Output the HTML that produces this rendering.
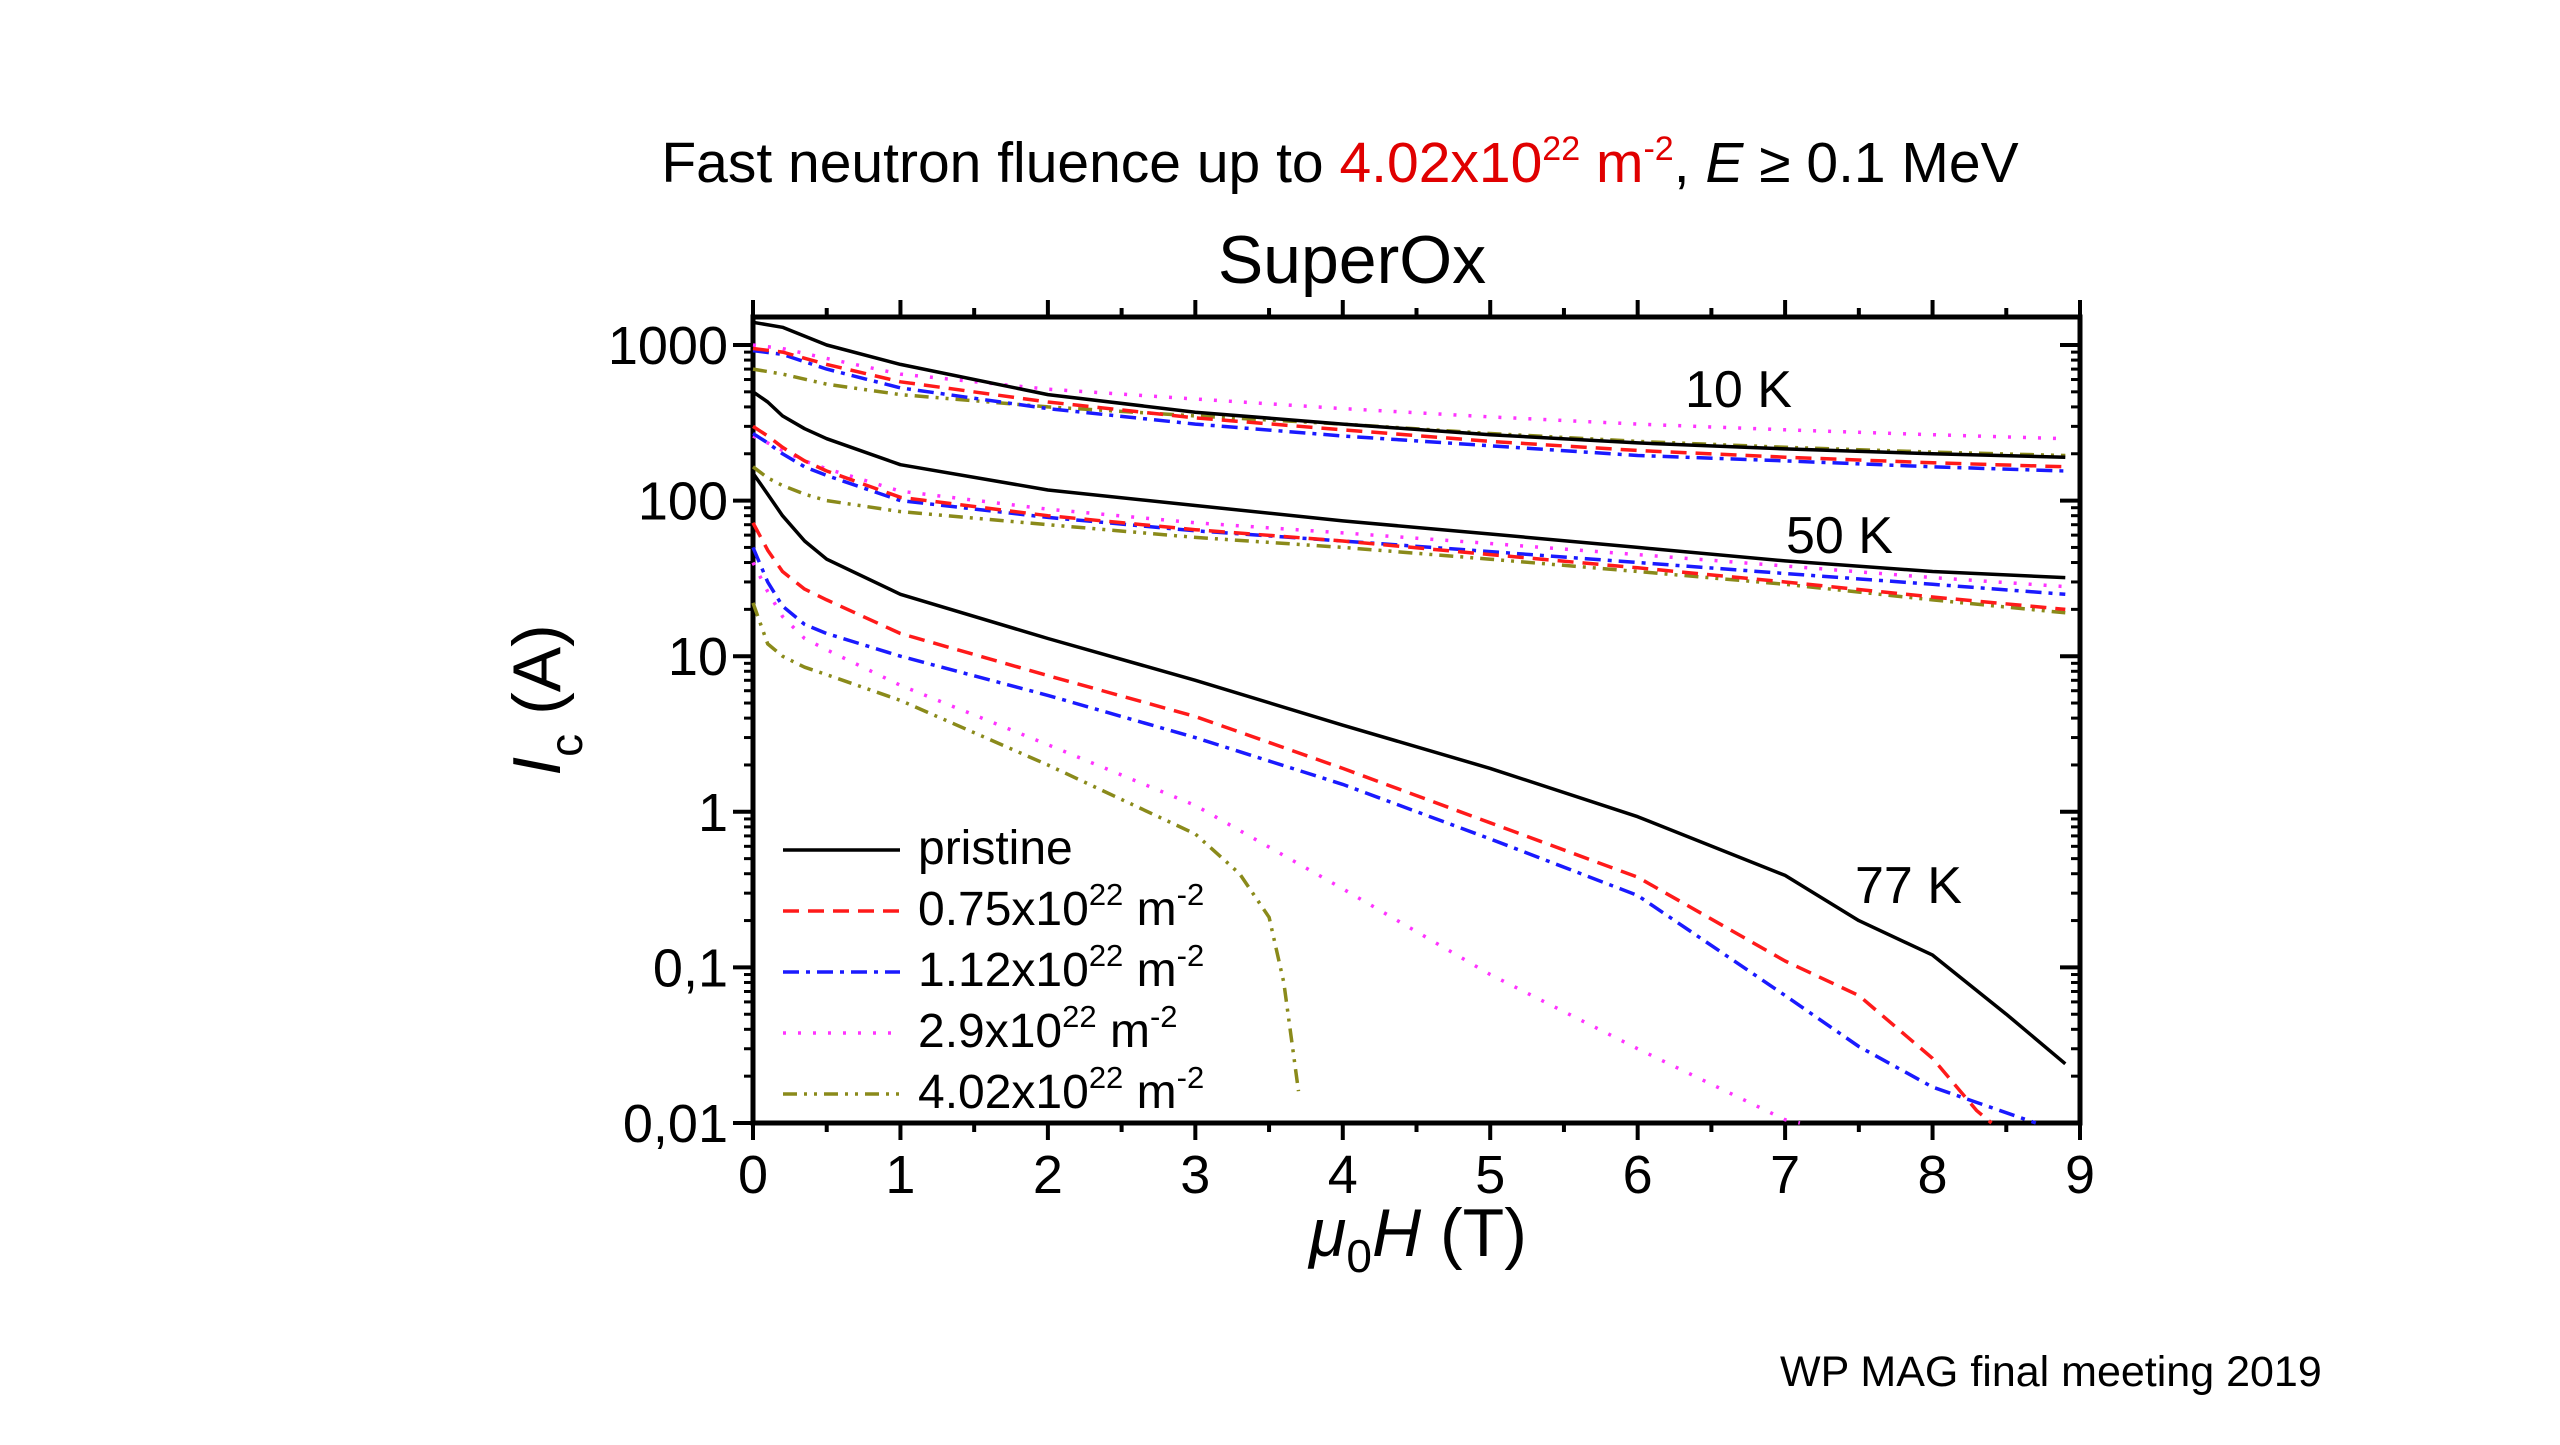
<!DOCTYPE html>
<html><head><meta charset="utf-8"><style>
html,body{margin:0;padding:0;background:#fff;}
body{width:2560px;height:1440px;overflow:hidden;}
text{font-family:"Liberation Sans",sans-serif;}
</style></head><body>
<svg id="chart" width="2560" height="1440" viewBox="0 0 2560 1440" xmlns="http://www.w3.org/2000/svg">
<text x="1340" y="182" text-anchor="middle" font-size="57" style="font-family:'Liberation Sans Narrow','Liberation Sans',sans-serif" fill="#000">Fast neutron fluence up to <tspan fill="#e00000">4.02x10<tspan font-size="34" dy="-22">22</tspan><tspan dy="22"> m</tspan><tspan font-size="34" dy="-22">-2</tspan></tspan><tspan dy="22">, </tspan><tspan font-style="italic">E</tspan> ≥ 0.1 MeV</text>
<text x="1352" y="283" text-anchor="middle" font-size="68" fill="#000">SuperOx</text>
<g id="axes"></g>
<g id="series"></g>
<g id="legend"></g>
<text x="1685" y="407" font-size="52">10 K</text>
<text x="1786" y="553" font-size="52">50 K</text>
<text x="1855" y="903" font-size="52">77 K</text>
<text transform="translate(560,700) rotate(-90)" text-anchor="middle" font-size="68"><tspan font-style="italic">I</tspan><tspan font-size="46" dy="22">c</tspan><tspan dy="-22">  (A)</tspan></text>
<text x="1418" y="1256" text-anchor="middle" font-size="68"><tspan font-style="italic">μ</tspan><tspan font-size="46" dy="16">0</tspan><tspan dy="-16" font-style="italic">H</tspan>  (T)</text>
<text x="1780" y="1386" font-size="43" style="font-family:'Liberation Sans Narrow','Liberation Sans',sans-serif">WP MAG final meeting 2019</text>
</svg>
<script>
const xTicks=[0,1,2,3,4,5,6,7,8,9];
const yTicks=[0.01,0.1,1,10,100,1000];
const yTickLabels=["0,01","0,1","1","10","100","1000"];
const seriesNames=["pristine","0.75x10","1.12x10","2.9x10","4.02x10"];
const xs10=[0,0.2,0.5,1,2,3,4,5,6,7,8,8.9];
const p10=[1400,1300,1000,750,480,370,310,265,235,215,200,190];
const r10=[950,900,750,580,430,340,285,240,210,190,175,165];
const b10=[920,870,700,530,390,310,260,225,195,180,165,155];
const m10=[1000,950,820,650,520,450,390,345,310,285,265,250];
const o10=[700,650,560,480,400,350,310,270,240,220,205,195];
const xs50=[0,0.1,0.2,0.35,0.5,1,2,3,4,5,6,7,8,8.9];
const p50=[500,430,350,290,250,170,117,93,74,61,50,41,35,32];
const r50=[300,260,220,180,155,105,80,65,55,45,37,30,24,20];
const b50=[270,235,200,165,145,100,78,64,55,47,40,34,29,25];
const m50=[260,235,210,180,160,115,88,72,62,53,45,38,32,28];
const o50=[165,140,125,110,100,85,70,58,50,42,35,29,23,19];
const xp77=[0,0.1,0.2,0.35,0.5,1,2,3,4,5,6,7,7.5,8,8.5,8.9];
const p77=[150,110,80,55,42,25,13,7,3.6,1.9,0.93,0.39,0.2,0.12,0.05,0.024];
const xr77=[0,0.1,0.2,0.35,0.5,1,2,3,4,5,6,7,7.5,8,8.3,8.4];
const r77=[72,48,35,27,23,14,7.5,4.1,1.9,0.85,0.38,0.11,0.066,0.026,0.012,0.01];
const xb77=[0,0.1,0.2,0.35,0.5,1,2,3,4,5,6,7,7.5,8,8.7];
const b77=[50,30,21,16,14,10,5.6,3.0,1.5,0.67,0.29,0.066,0.031,0.017,0.01];
const xm77=[0,0.1,0.2,0.35,0.5,1,2,3,4,5,6,7,7.1];
const m77=[40,26,18,13,11,6.5,2.7,1.1,0.32,0.09,0.03,0.0105,0.01];
const xo77=[0,0.1,0.2,0.35,0.5,1,2,3,3.3,3.5,3.6,3.7];
const o77=[22,12,10,8.5,7.6,5.2,2.0,0.72,0.4,0.21,0.08,0.016];

const L=753,R=2080,T=317,B=1123;
const X=v=>L+(v/9)*(R-L);
const Y=v=>345+(3-Math.log10(v))*155.6;
const NS="http://www.w3.org/2000/svg";
function mk(tag,attrs,parent){const e=document.createElementNS(NS,tag);for(const k in attrs)e.setAttribute(k,attrs[k]);parent.appendChild(e);return e;}
const axes=document.getElementById('axes');
const frame=mk('rect',{x:L,y:T,width:R-L,height:B-T,fill:'none',stroke:'#000','stroke-width':5},axes);


xTicks.forEach((t,i)=>{
  const x=X(t);
  mk('line',{x1:x,y1:B,x2:x,y2:B+17,stroke:'#000','stroke-width':4},axes);
  mk('line',{x1:x,y1:T,x2:x,y2:T-17,stroke:'#000','stroke-width':4},axes);
  if(i<9){const xm=X(t+0.5);mk('line',{x1:xm,y1:B,x2:xm,y2:B+9,stroke:'#000','stroke-width':4},axes);mk('line',{x1:xm,y1:T,x2:xm,y2:T-9,stroke:'#000','stroke-width':4},axes);}
  const lb=mk('text',{x:x,y:1193,'text-anchor':'middle','font-size':54},axes);
  lb.textContent=String(t);
  
  
});
yTicks.forEach((t,i)=>{
  const y=Y(t);
  mk('line',{x1:L,y1:y,x2:L-20,y2:y,stroke:'#000','stroke-width':4},axes);
  mk('line',{x1:R,y1:y,x2:R-20,y2:y,stroke:'#000','stroke-width':4},axes);
  for(let k=2;k<=9;k++){const ym=Y(t*k);if(ym<T)break;mk('line',{x1:L,y1:ym,x2:L-9,y2:ym,stroke:'#000','stroke-width':3},axes);mk('line',{x1:R,y1:ym,x2:R-9,y2:ym,stroke:'#000','stroke-width':3},axes);}
  const lb=mk('text',{x:728,y:y+19,'text-anchor':'end','font-size':54},axes);
  lb.textContent=yTickLabels[i];
  
  
});
const styles=[
 {c:'#000',d:'none'},
 {c:'#ff1a1a',d:'16,9'},
 {c:'#1a1aff',d:'16,7,4,7'},
 {c:'#ff33ff',d:'3,12'},
 {c:'#8a8a1a',d:'14,7,3,7,3,7'}
];
const sg=document.getElementById('series');
function draw(xs,ys,si,name){
  const pts=xs.map((x,i)=>X(x).toFixed(1)+','+Y(ys[i]).toFixed(1)).join(' ');
  const p=mk('polyline',{points:pts,fill:'none',stroke:styles[si].c,'stroke-width':3.5,'stroke-dasharray':styles[si].d,'stroke-linejoin':'round'},sg);
  
  
}
draw(xs10,o10,4,'olive-10k');draw(xs10,m10,3,'magenta-10k');draw(xs10,b10,2,'blue-10k');draw(xs10,r10,1,'red-10k');draw(xs10,p10,0,'pristine-10k');
draw(xs50,o50,4,'olive-50k');draw(xs50,m50,3,'magenta-50k');draw(xs50,b50,2,'blue-50k');draw(xs50,r50,1,'red-50k');draw(xs50,p50,0,'pristine-50k');
draw(xo77,o77,4,'olive-77k');draw(xm77,m77,3,'magenta-77k');draw(xb77,b77,2,'blue-77k');draw(xr77,r77,1,'red-77k');draw(xp77,p77,0,'pristine-77k');
const lg=document.getElementById('legend');
seriesNames.forEach((n,i)=>{
  const y=850+i*61;
  mk('line',{x1:783,y1:y,x2:900,y2:y,stroke:styles[i].c,'stroke-width':3.5,'stroke-dasharray':styles[i].d},lg);
  const t=mk('text',{x:918,y:y+14,'font-size':48},lg);
  
  
  t.textContent=n;
  if(i>0){
    const s1=mk('tspan',{'font-size':31,dy:-20},t);s1.textContent='22';
    const s2=mk('tspan',{dy:20},t);s2.textContent=' m';
    const s3=mk('tspan',{'font-size':31,dy:-20},t);s3.textContent='-2';
  }
});
</script>
</body></html>
